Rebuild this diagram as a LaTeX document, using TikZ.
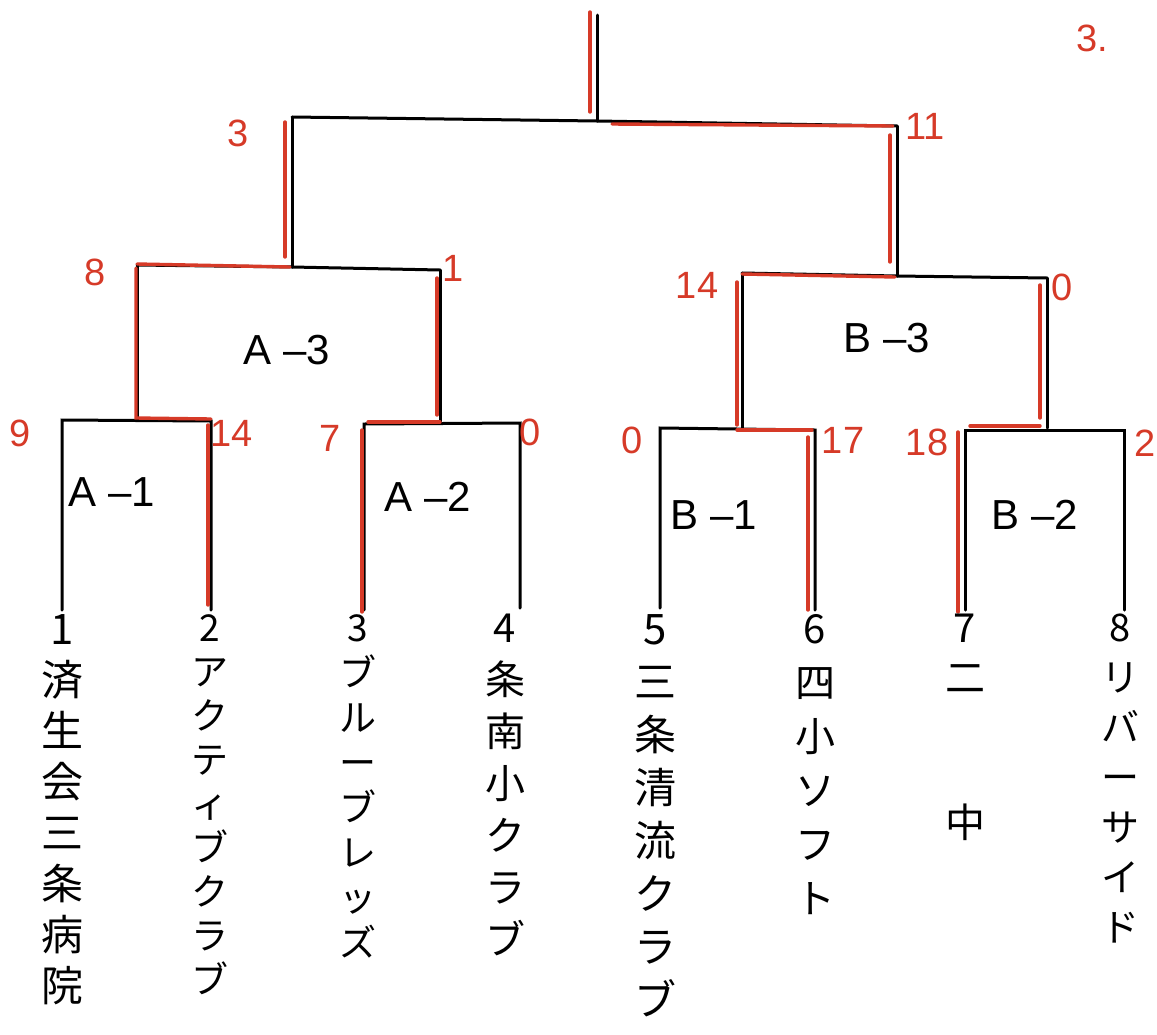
\documentclass[tikz,border=0pt]{standalone}
\usepackage{fontspec}
\setmainfont{Liberation Sans}
\newfontfamily\cjk{Noto Sans CJK JP}
\definecolor{pen}{RGB}{214,58,40}
\tikzset{
  bline/.style={black, line width=3pt, line cap=round},
  win/.style={pen, line width=3.4pt, line cap=round},
  score/.style={pen, font=\fontsize{38}{38}\selectfont, inner sep=0pt},
  group/.style={font=\fontsize{42}{42}\selectfont, inner sep=0pt},
  team/.style 2 args={font=\cjk\fontsize{#1}{#2}\selectfont, align=center, anchor=north, inner sep=0pt},
}
\begin{document}
\begin{tikzpicture}[x=1pt,y=-1pt]
\fill[white] (0,0) rectangle (1157,1034);
\useasboundingbox (0,0) rectangle (1157,1034);

% bracket points
\coordinate (top) at (597,15);
\coordinate (F) at (597,121);
\coordinate (FL) at (292,117);
\coordinate (FR) at (897,126);
\coordinate (SA) at (292,267);
\coordinate (A3L) at (137,265);
\coordinate (A3R) at (440,270);
\coordinate (SB) at (897,276);
\coordinate (B3L) at (742,273);
\coordinate (B3R) at (1047,278);
\coordinate (A1m) at (137,420);
\coordinate (A1L) at (62,420);
\coordinate (A1R) at (211,421);
\coordinate (A2m) at (440,423);
\coordinate (A2L) at (364,424);
\coordinate (A2R) at (520,423);
\coordinate (B1m) at (742,428);
\coordinate (B1L) at (660,428);
\coordinate (B1R) at (815,430);
\coordinate (B2m) at (1047,428);
\coordinate (B2L) at (965,430);
\coordinate (B2R) at (1124,430);
\coordinate (e1) at (62,610);
\coordinate (e2) at (211,610);
\coordinate (e3) at (364,610);
\coordinate (e4) at (520,608);
\coordinate (e5) at (660,608);
\coordinate (e6) at (815,610);
\coordinate (e7) at (965,610);
\coordinate (e8) at (1124,610);

% black bracket
\draw[bline] (top) -- (F);
\draw[bline] (FL) -- (F) -- (FR);
\draw[bline] (FL) -- (SA);
\draw[bline] (FR) -- (SB);
\draw[bline] (A3L) -- (SA) -- (A3R);
\draw[bline] (B3L) -- (SB) -- (B3R);
\draw[bline] (A3L) -- (A1m);
\draw[bline] (A3R) -- (A2m);
\draw[bline] (B3L) -- (B1m);
\draw[bline] (B3R) -- (B2m);
\draw[bline] (e1) -- (A1L) -- (A1R) -- (e2);
\draw[bline] (e3) -- (A2L) -- (A2R) -- (e4);
\draw[bline] (e5) -- (B1L) -- (B1R) -- (e6);
\draw[bline] (e7) -- (B2L) -- (B2R) -- (e8);

% red winner marks
\draw[win] (590,12) -- (590,112);
\draw[win] (612,124) -- (893,126);
\draw[win] (285,122) -- (285,257);
\draw[win] (890,135) -- (890,262);
\draw[win] (137,264) -- (290,267);
\draw[win] (136,268) -- (136,418) -- (211,419);
\draw[win] (208,425) -- (208,605);
\draw[win] (437,278) -- (437,415);
\draw[win] (368,422) -- (440,422);
\draw[win] (362,430) -- (362,612);
\draw[win] (742,274) -- (895,277);
\draw[win] (737,282) -- (737,425);
\draw[win] (737,430) -- (812,430);
\draw[win] (808,437) -- (808,610);
\draw[win] (1040,285) -- (1040,418);
\draw[win] (970,426) -- (1040,426);
\draw[win] (958,432) -- (958,612);

% group labels
\node[group] (gA3) at (287,350) {A –3};
\node[group] (gA1) at (112,492) {A –1};
\node[group] (gA2) at (428,497) {A –2};
\node[group] (gB3) at (887,338) {B –3};
\node[group] (gB1) at (714,515) {B –1};
\node[group] (gB2) at (1035,515) {B –2};

% scores
\node[score] (s0) at (1092,38) {3.};
\node[score] (sF1) at (238,133) {3};
\node[score] (sF2) at (925,126) {11};
\node[score] (sA31) at (95,272) {8};
\node[score] (sA32) at (453,268) {1};
\node[score] (sB31) at (697,285) {14};
\node[score] (sB32) at (1062,287) {0};
\node[score] (sA11) at (20,433) {9};
\node[score] (sA12) at (232,433) {14};
\node[score] (sA21) at (330,438) {7};
\node[score] (sA22) at (530,432) {0};
\node[score] (sB11) at (632,440) {0};
\node[score] (sB12) at (843,440) {17};
\node[score] (sB21) at (927,442) {18};
\node[score] (sB22) at (1145,443) {2};

% teams
\node[team={42}{51}] (t1) at (62,614) {1\\済\\生\\会\\三\\条\\病\\院};
\node[team={37}{44}] (t2) at (210,614) {2\\ア\\ク\\テ\\ィ\\ブ\\ク\\ラ\\ブ};
\node[team={37}{45}] (t3) at (358,614) {3\\ブ\\ル\\ー\\ブ\\レ\\ッ\\ズ};
\node[team={40}{52}] (t4) at (505,614) {4\\条\\南\\小\\ク\\ラ\\ブ};
\node[team={42}{53}] (t5) at (655,614) {5\\三\\条\\清\\流\\ク\\ラ\\ブ};
\node[team={40}{54}] (t6) at (815,614) {6\\四\\小\\ソ\\フ\\ト};
\node[team={40}{50}] (t7) at (965,614) {7\\二\\[95pt]中};
\node[team={38}{50}] (t8) at (1120,614) {8\\リ\\バ\\ー\\サ\\イ\\ド};
\end{tikzpicture}
\end{document}
